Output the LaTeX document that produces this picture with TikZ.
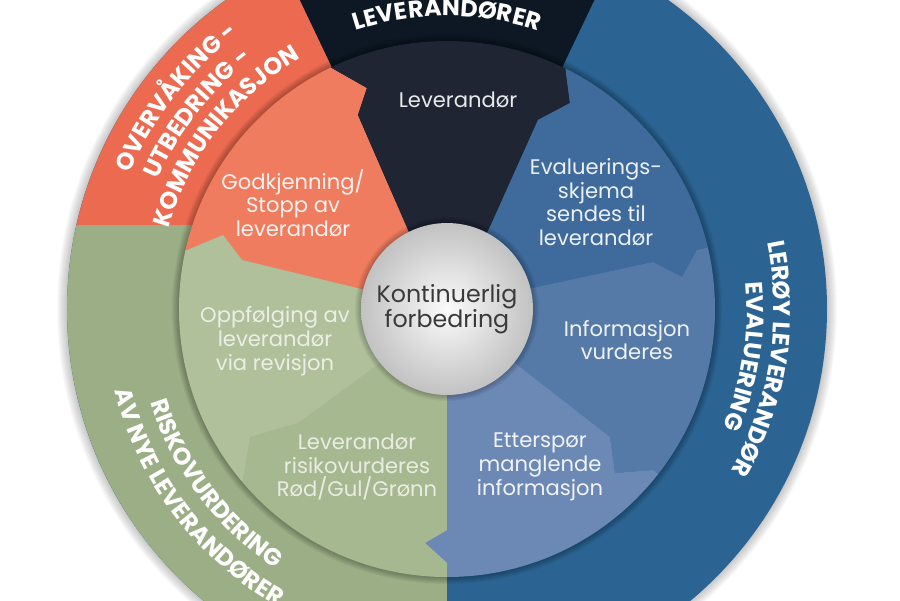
\documentclass[tikz,border=0pt]{standalone}
\usepackage{fontspec}
\setmainfont{Poppins}
\usetikzlibrary{decorations.text}

\definecolor{navyout}{HTML}{0E1824}
\definecolor{navyin}{HTML}{1F2533}
\definecolor{orangeout}{HTML}{EC6A4F}
\definecolor{orangein}{HTML}{EF7C5F}
\definecolor{greenout}{HTML}{9BAE86}
\definecolor{greenone}{HTML}{A6B890}
\definecolor{greentwo}{HTML}{AFC09A}
\definecolor{blueout}{HTML}{2B6492}
\definecolor{blueone}{HTML}{3E6A9C}
\definecolor{bluetwo}{HTML}{557AA8}
\definecolor{bluethree}{HTML}{6C88B5}
\definecolor{kontgray}{HTML}{3A3A3A}

\newcommand{\lblfont}{\fontsize{12}{13.5}\selectfont}
\newcommand{\ringfont}{\bfseries\fontsize{13.6}{15}\selectfont}

\tikzset{
	lbl/.style={align=center, font=\lblfont, text=white, text opacity=0.9},
	ringtext/.style={decorate, decoration={text along path, text align=center, text color=white, text={|\ringfont|#1}}}
}

\begin{document}
\begin{tikzpicture}[x=0.02cm, y=0.02cm]
	\useasboundingbox (-447,-291) rectangle (453,309);
	\clip (-447,-291) rectangle (453,309);
	
	% soft shadow round the wheel
	\foreach \k in {1,...,10}{
		\fill[black, opacity=0.025] (0,0) circle ({380+\k});
	}
	
	% outer ring
	\fill[blueout] (0,0) circle (380);
	\fill[navyout] (0,0) -- (64.5:380) arc[start angle=64.5, end angle=115.5, radius=380] -- cycle;
	\fill[orangeout] (0,0) -- (115.5:380) arc[start angle=115.5, end angle=167.23, radius=380] -- (0,84) -- cycle;
	\fill[greenout] (0,84) -- (167.23:380) arc[start angle=167.23, end angle=270, radius=380] -- cycle;
	
	\foreach \k in {1,...,8}{
		\draw[black, opacity=0.035, line width=\k pt] (0,0) circle (268);
	}
	
	% inner ring, one sector per step
	\begin{scope}
		\clip (0,0) circle (268);
		\fill[orangein] (0,0) -- (-82,19) -- (-205,49) -- (-224,74) -- (-260,59) -- (-320,72) -- (-320,320) -- (-135,280) -- (-117,242) -- (-80,221) -- (-89,194) -- (-39,79) -- cycle;
		\fill[navyin] (0,0) -- (-39,79) -- (-89,194) -- (-80,221) -- (-117,242) -- (-135,280) -- (135,280) -- (118,244) -- (123,206) -- (91,189) -- (43,82) -- cycle;
		\fill[blueone] (0,0) -- (43,82) -- (91,189) -- (123,206) -- (118,244) -- (135,280) -- (330,280) -- (300,72) -- (250,59) -- (235,32) -- (206,47) -- (90,22) -- cycle;
		\fill[bluetwo] (0,0) -- (90,22) -- (206,47) -- (235,32) -- (250,59) -- (300,72) -- (330,-120) -- (240,-187) -- (216,-168) -- (206,-161) -- (168,-164) -- (163,-128) -- (73,-58) -- cycle;
		\fill[bluethree] (0,0) -- (73,-58) -- (163,-128) -- (168,-164) -- (206,-161) -- (216,-168) -- (240,-187) -- (200,-320) -- (0,-320) -- (0,-254) -- (-22,-234) -- (0,-221) -- cycle;
		\fill[greenone] (0,0) -- (0,-221) -- (-22,-234) -- (0,-254) -- (0,-320) -- (-220,-320) -- (-208,-195) -- (-202,-158) -- (-197,-128) -- (-149,-114) -- (-74,-59) -- cycle;
		\fill[greentwo] (0,0) -- (-74,-59) -- (-149,-114) -- (-197,-128) -- (-202,-158) -- (-208,-195) -- (-320,-210) -- (-320,72) -- (-260,59) -- (-224,74) -- (-205,49) -- (-82,19) -- cycle;
	\end{scope}
	
	\foreach \k in {1,...,6}{
		\fill[black, opacity=0.04] (0,0) circle ({86+\k});
	}
	\node (kont) [circle, minimum size=3.44cm, inner sep=0pt, inner color=white!97!gray, outer color=gray!48, align=center, font=\fontsize{13.5}{14.5}\selectfont, text=kontgray] at (0,0) {Kontinuerlig\\forbedring};
	
	\node (lev) [lbl] at (11,209) {Leverandør};
	\node (godkj) [lbl] at (-154,106) {Godkjenning/\\Stopp av\\leverandør};
	\node (eval) [lbl] at (149,107) {Evaluerings-\\skjema\\sendes til\\leverandør};
	\node (info) [lbl] at (180,-31) {Informasjon\\vurderes};
	\node (ettersp) [lbl] at (93,-158) {Etterspør\\manglende\\informasjon};
	\node (risiko) [lbl, text opacity=0.75] at (-90,-158) {Leverandør\\risikovurderes\\Rød/Gul/Grønn};
	\node (oppf) [lbl, text opacity=0.75] at (-172,-32) {Oppfølging av\\leverandør\\via revisjon};
	
	% texts round the outer ring
	\path[ringtext=LEVERANDØRER] (125:293) arc[start angle=125, end angle=55, radius=293];
	\path[ringtext=OVERVÅKING -] (177:345) arc[start angle=177, end angle=107, radius=345];
	\path[ringtext=UTBEDRING -] (177:317) arc[start angle=177, end angle=107, radius=317];
	\path[ringtext=KOMMUNIKASJON] (177:290) arc[start angle=177, end angle=107, radius=290];
	\path[ringtext=LERØY LEVERANDØR] (26:327) arc[start angle=26, end angle=-44, radius=327];
	\path[ringtext=EVALUERING] (26:300) arc[start angle=26, end angle=-44, radius=300];
	\path[ringtext=RISKOVURDERING] (182:311) arc[start angle=182, end angle=252, radius=311];
	\path[ringtext=AV NYE LEVERANDØRER] (182:342) arc[start angle=182, end angle=252, radius=342];
\end{tikzpicture}
\end{document}
